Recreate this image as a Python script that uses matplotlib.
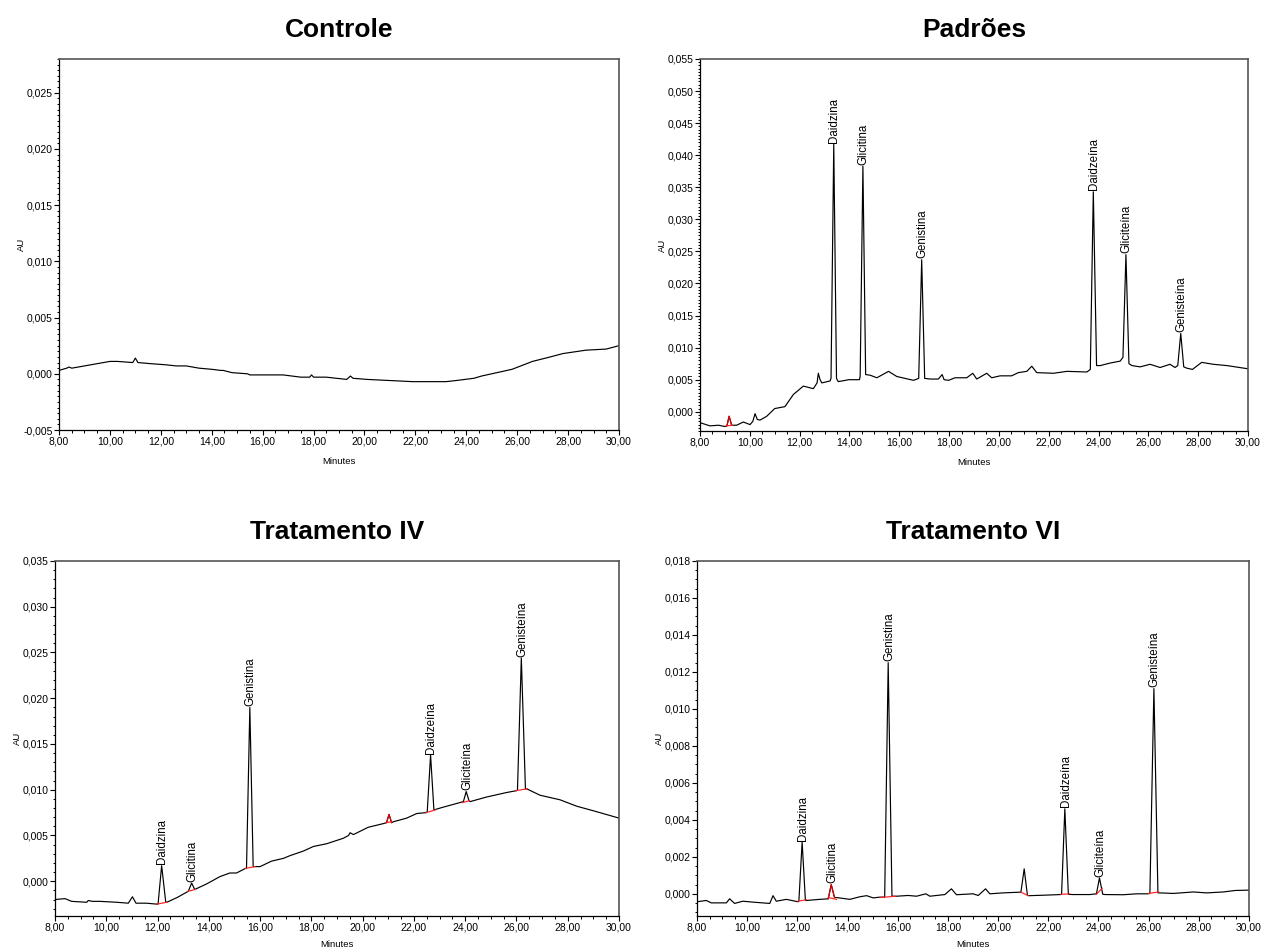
import matplotlib
matplotlib.use("Agg")
import matplotlib.pyplot as plt
from matplotlib.ticker import MultipleLocator, AutoMinorLocator, FuncFormatter

plt.rcParams['font.family'] = ['Liberation Sans', 'DejaVu Sans']

# ---- Controle ----
controle_t = [8.0, 8.3, 8.4, 8.5, 9.0, 9.5, 10.0, 10.3, 10.9, 11.0, 11.1, 11.6, 12.2, 12.6,
              13.0, 13.5, 14.0, 14.35, 14.45, 14.8, 15.4, 15.5, 16.5, 16.65, 16.8, 17.5,
              17.85, 17.92, 18.0, 18.5, 19.3, 19.45, 19.55, 20.1, 21.0, 21.9, 23.2, 23.6,
              24.3, 24.6, 25.6, 25.8, 26.6, 27.3, 27.8, 28.7, 29.5, 30.0]
controle_au = [0.0003, 0.0005, 0.0006, 0.0005, 0.0007, 0.0009, 0.0011, 0.0011, 0.0010, 0.0014,
               0.0010, 0.0009, 0.0008, 0.0007, 0.0007, 0.0005, 0.0004, 0.0003, 0.0003, 0.0001,
               0.0000, -0.0001, -0.0001, -0.0001, -0.0001, -0.0003, -0.0003, -0.0001, -0.0003,
               -0.0003, -0.0005, -0.0002, -0.0004, -0.0005, -0.0006, -0.0007, -0.0007, -0.0006,
               -0.0004, -0.0002, 0.0003, 0.0004, 0.0011, 0.0015, 0.0018, 0.0021, 0.0022, 0.0025]

# ---- Padroes ----
padroes_t = [8.0, 8.4, 8.74, 9.0, 9.08, 9.17, 9.27, 9.47, 9.74, 10.01, 10.12, 10.21, 10.30,
             10.41, 10.68, 11.0, 11.41, 11.75, 12.15, 12.55, 12.70, 12.75, 12.82, 12.89, 13.22,
             13.26, 13.37, 13.48, 13.55, 13.70, 13.97, 14.40, 14.43, 14.54, 14.65, 14.83, 15.10,
             15.57, 15.90, 16.57, 16.78, 16.90, 17.02, 17.24, 17.57, 17.72, 17.80, 17.98, 18.24,
             18.71, 18.95, 19.11, 19.51, 19.71, 20.05, 20.51, 20.78, 21.12, 21.32, 21.52, 22.19,
             22.73, 23.53, 23.67, 23.79, 23.92, 24.07, 24.47, 24.87, 24.98, 25.10, 25.22, 25.34,
             25.67, 26.07, 26.47, 26.87, 27.07, 27.18, 27.30, 27.42, 27.54, 27.77, 28.14, 28.61,
             29.15, 30.0]
padroes_au = [-0.0017, -0.0022, -0.0021, -0.0023, -0.0022, -0.0007, -0.0021, -0.0021, -0.0016,
              -0.0020, -0.0015, -0.0003, -0.0012, -0.0013, -0.0007, 0.0005, 0.0008, 0.0027,
              0.0040, 0.0036, 0.0045, 0.0060, 0.0050, 0.0045, 0.0048, 0.0052, 0.0417, 0.0052,
              0.0047, 0.0048, 0.0050, 0.0050, 0.0055, 0.0383, 0.0058, 0.0057, 0.0053, 0.0063,
              0.0055, 0.0049, 0.0052, 0.0237, 0.0052, 0.0051, 0.0051, 0.0058, 0.0050, 0.0049,
              0.0053, 0.0053, 0.0060, 0.0051, 0.0060, 0.0053, 0.0056, 0.0056, 0.0061, 0.0063,
              0.0071, 0.0061, 0.0060, 0.0063, 0.0062, 0.0066, 0.0343, 0.0072, 0.0072, 0.0076,
              0.0079, 0.0085, 0.0245, 0.0075, 0.0072, 0.0070, 0.0074, 0.0069, 0.0074, 0.0069,
              0.0072, 0.0122, 0.0070, 0.0068, 0.0066, 0.0077, 0.0074, 0.0072, 0.0067]
padroes_names = ["Daidzina", "Glicitina", "Genistina", "Daidzeína", "Gliciteína", "Genisteína"]
padroes_peak_t = [13.37, 14.54, 16.90, 23.79, 25.10, 27.30]
padroes_peak_au = [0.0417, 0.0383, 0.0237, 0.0343, 0.0245, 0.0122]
padroes_red_trace = [(9.05, 9.30)]
padroes_red_base = [(9.05, -0.0022, 9.30, -0.0021)]

# ---- Tratamento IV ----
trat4_t = [8.0, 8.39, 8.65, 9.24, 9.30, 9.45, 9.76, 10.41, 10.86, 11.02, 11.16, 11.57, 11.96,
           12.02, 12.16, 12.32, 12.36, 12.75, 13.20, 13.33, 13.45, 13.91, 14.43, 14.82, 15.08,
           15.43, 15.47, 15.60, 15.73, 16.0, 16.45, 16.91, 17.17, 17.69, 18.08, 18.60, 19.25,
           19.45, 19.51, 19.64, 20.22, 20.81, 20.93, 21.03, 21.13, 21.20, 21.72, 22.11, 22.48,
           22.52, 22.65, 22.78, 23.15, 23.67, 23.93, 24.04, 24.15, 24.19, 24.83, 25.62, 26.01,
           26.04, 26.19, 26.35, 26.40, 26.92, 27.70, 28.35, 29.0, 30.0]
trat4_au = [-0.0020, -0.0019, -0.0022, -0.0023, -0.0021, -0.0022, -0.0022, -0.0023, -0.0024,
            -0.0017, -0.0024, -0.0024, -0.0025, -0.0025, 0.0017, -0.0023, -0.0023, -0.0018,
            -0.0011, -0.0002, -0.0009, -0.0003, 0.0005, 0.0009, 0.0009, 0.0014, 0.0014, 0.0190,
            0.0016, 0.0016, 0.0022, 0.0025, 0.0028, 0.0033, 0.0038, 0.0041, 0.0047, 0.0050,
            0.0053, 0.0051, 0.0059, 0.0063, 0.0064, 0.0073, 0.0064, 0.0065, 0.0069, 0.0074,
            0.0075, 0.0076, 0.0138, 0.0078, 0.0081, 0.0085, 0.0087, 0.0098, 0.0088, 0.0087,
            0.0092, 0.0097, 0.0099, 0.0100, 0.0244, 0.0101, 0.0101, 0.0094, 0.0089, 0.0082,
            0.0077, 0.0069]
trat4_names = ["Daidzina", "Glicitina", "Genistina", "Daidzeína", "Gliciteína", "Genisteína"]
trat4_peak_t = [12.16, 13.33, 15.60, 22.65, 24.04, 26.19]
trat4_peak_au = [0.0017, -0.0002, 0.0190, 0.0138, 0.0098, 0.0244]
trat4_red_trace = [(20.92, 21.14)]
trat4_red_base = [(11.98, -0.0025, 12.36, -0.0023), (13.18, -0.0011, 13.47, -0.0009),
                  (15.43, 0.0014, 15.80, 0.0016), (20.92, 0.0064, 21.14, 0.0065),
                  (22.48, 0.0075, 22.84, 0.0078), (23.90, 0.0086, 24.17, 0.0088),
                  (25.98, 0.0099, 26.42, 0.0101)]

# ---- Tratamento VI ----
trat6_t = [8.0, 8.37, 8.57, 9.17, 9.30, 9.50, 9.83, 10.23, 10.90, 11.03, 11.16, 11.56, 12.03,
           12.06, 12.19, 12.32, 12.36, 12.89, 13.23, 13.35, 13.48, 13.56, 14.09, 14.49, 14.76,
           15.02, 15.29, 15.48, 15.62, 15.77, 15.95, 16.42, 16.75, 17.12, 17.28, 17.88, 18.14,
           18.34, 19.0, 19.21, 19.50, 19.67, 20.20, 20.91, 21.04, 21.17, 21.26, 21.93, 22.49,
           22.53, 22.66, 22.80, 22.99, 23.66, 23.92, 24.04, 24.17, 24.26, 24.99, 25.52, 25.98,
           26.05, 26.21, 26.37, 26.45, 26.98, 27.78, 28.31, 28.98, 29.44, 30.0]
trat6_au = [-0.00043, -0.00036, -0.00049, -0.00049, -0.00027, -0.00052, -0.00040, -0.00045,
            -0.00052, -0.00010, -0.00040, -0.00030, -0.00043, -0.00040, 0.0028, -0.00036,
            -0.00036, -0.00030, -0.00027, 0.00050, -0.00020, -0.00020, -0.00030, -0.00016,
            -0.00010, -0.00022, -0.00018, -0.00018, 0.0125, -0.00013, -0.00013, -0.00009,
            -0.00013, 0.0, -0.00013, -0.00004, 0.00027, -0.00005, 0.0, -0.00009, 0.00027, 0.0,
            0.00005, 0.00009, 0.00135, -0.00009, -0.00010, -0.00007, -0.00004, -0.00003, 0.0046,
            -0.00003, -0.00004, -0.00004, 0.0, 0.00086, -0.00002, -0.00004, -0.00005, 0.0, 0.0,
            0.00002, 0.0111, 0.00005, 0.00005, 0.00002, 0.0001, 0.00005, 0.0001, 0.00018, 0.0002]
trat6_names = ["Daidzina", "Glicitina", "Genistina", "Daidzeína", "Gliciteína", "Genisteína"]
trat6_peak_t = [12.19, 13.35, 15.62, 22.66, 24.04, 26.21]
trat6_peak_au = [0.0028, 0.00050, 0.0125, 0.0046, 0.00086, 0.0111]
trat6_red_trace = [(13.22, 13.50)]
trat6_red_base = [(12.03, -0.00040, 12.36, -0.00032), (13.23, -0.00020, 13.56, -0.00030),
                  (15.30, -0.00020, 15.92, -0.00013), (20.91, 0.00009, 21.20, -0.00010),
                  (22.50, -0.00003, 22.85, 0.0), (23.92, -0.00002, 24.15, 0.00030),
                  (26.00, 0.00002, 26.40, 0.00010)]

FIG_W, FIG_H = 1262, 951


def comma_fmt(nd):
  return FuncFormatter(lambda v, p: f"{v:.{nd}f}".replace('.', ','))


def draw_panel(fig, rect_px, title, t, au, ylim, ystep, yminor, xlab_off,
               names=None, peak_t=None, peak_au=None, red_trace=(), red_base=()):
  left, top, right, bottom = rect_px
  w = right - left
  h = bottom - top
  ax = fig.add_axes([left / FIG_W, 1 - bottom / FIG_H, w / FIG_W, h / FIG_H])

  ax.plot(t, au, color='black', lw=0.85)
  for (t0, t1) in red_trace:
    sel = [(a, b) for a, b in zip(t, au) if t0 <= a <= t1]
    ax.plot([s[0] for s in sel], [s[1] for s in sel], color='#e00000', lw=0.85)
  for (t0, y0, t1, y1) in red_base:
    ax.plot([t0, t1], [y0, y1], color='#ff2020', lw=0.85)

  if names is not None:
    for n, pt, pa in zip(names, peak_t, peak_au):
      ax.annotate(n, (pt, pa), xytext=(0.5, 1), textcoords='offset points',
                  rotation=90, ha='center', va='bottom', fontsize=8.3)

  ax.set_xlim(8, 30)
  ax.set_ylim(*ylim)
  ax.xaxis.set_major_locator(MultipleLocator(2))
  ax.xaxis.set_minor_locator(AutoMinorLocator(4))
  ax.yaxis.set_major_locator(MultipleLocator(ystep))
  ax.yaxis.set_minor_locator(AutoMinorLocator(yminor))
  ax.xaxis.set_major_formatter(comma_fmt(2))
  ax.yaxis.set_major_formatter(comma_fmt(3))
  ax.tick_params(which='major', direction='out', length=3.5, width=0.8,
                 labelsize=7.5, pad=1)
  ax.tick_params(which='minor', direction='out', length=1.8, width=0.7)

  for s in ['left', 'bottom']:
    ax.spines[s].set_color('black')
    ax.spines[s].set_linewidth(0.9)
  for s in ['top', 'right']:
    ax.spines[s].set_color('#555555')
    ax.spines[s].set_linewidth(1.2)

  ax.set_xlabel("Minutes", fontsize=6.8)
  ax.set_ylabel("AU", fontsize=6.8)
  ax.xaxis.set_label_coords(0.5, -xlab_off / h)
  ax.yaxis.set_label_coords(-33 / w, 0.5)
  ax.set_title(title, fontsize=19, fontweight='bold', pad=16)
  return ax


def main() -> None:
  fig = plt.figure(figsize=(FIG_W / 100, FIG_H / 100), dpi=100)

  draw_panel(fig, (59, 59, 619, 430), "Controle", controle_t, controle_au,
             (-0.005, 0.028), 0.005, 10, 27)
  draw_panel(fig, (700, 59, 1248, 431), "Padrões", padroes_t, padroes_au,
             (-0.003, 0.055), 0.005, 10, 27, padroes_names, padroes_peak_t, padroes_peak_au,
             padroes_red_trace, padroes_red_base)
  draw_panel(fig, (55, 561, 619, 916), "Tratamento IV", trat4_t, trat4_au,
             (-0.0038, 0.035), 0.005, 5, 24, trat4_names, trat4_peak_t, trat4_peak_au,
             trat4_red_trace, trat4_red_base)
  draw_panel(fig, (697, 561, 1249, 916), "Tratamento VI", trat6_t, trat6_au,
             (-0.0012, 0.018), 0.002, 4, 24, trat6_names, trat6_peak_t, trat6_peak_au,
             trat6_red_trace, trat6_red_base)

  fig.savefig("out.png", dpi=100)
  plt.close(fig)


if __name__ == '__main__':
  main()
